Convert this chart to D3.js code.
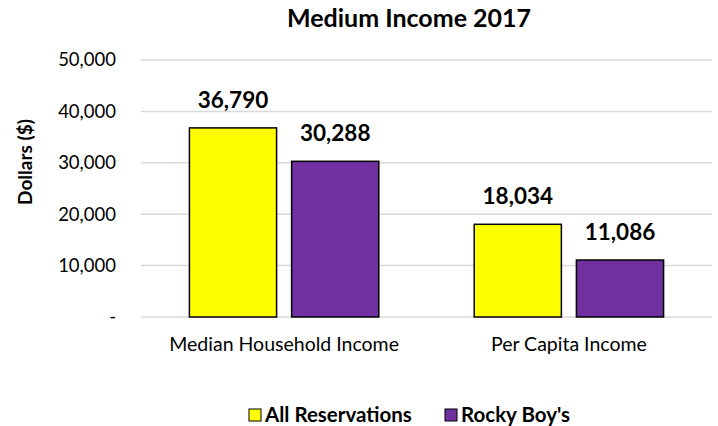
<!DOCTYPE html>
<html>
<head>
<meta charset="utf-8">
<script src="https://cdn.jsdelivr.net/npm/d3@7"></script>
<style>
	body { margin: 0; background: #fff; }
	text { font-family: Lato, "Open Sans", sans-serif; fill: #000; }
</style>
</head>
<body>
<svg id="chart" width="718" height="426"></svg>
<script>
	var categories = ["Median Household Income", "Per Capita Income"],
		seriesNames = ["All Reservations", "Rocky Boy's"],
		allReservations = [36790, 18034],
		rockyBoys = [30288, 11086],
		yTicks = [0, 10000, 20000, 30000, 40000, 50000],
		colors = ["#ffff00", "#7030a0"];

	var svg = d3.select("#chart"),
		plotLeft = 141,
		plotRight = 712,
		plotTop = 60,
		plotBottom = 317;

	var x0 = d3.scaleBand()
		.domain(categories)
		.range([plotLeft, plotRight])
		.paddingInner(0.335)
		.paddingOuter(0.17);

	var x1 = d3.scaleBand()
		.domain(seriesNames)
		.range([0, x0.bandwidth()])
		.paddingInner(0.147);

	var y = d3.scaleLinear()
		.domain([0, 50000])
		.range([plotBottom, plotTop]);

	var fmt = d3.format(",");

	// gridlines
	svg.append("g")
		.selectAll("line")
		.data(yTicks)
		.enter()
		.append("line")
		.attr("x1", plotLeft)
		.attr("x2", plotRight)
		.attr("y1", function (d) { return y(d); })
		.attr("y2", function (d) { return y(d); })
		.attr("stroke", "#d9d9d9")
		.attr("stroke-width", 1.5);

	// y tick labels
	svg.append("g")
		.selectAll("text")
		.data(yTicks)
		.enter()
		.append("text")
		.attr("x", 116)
		.attr("y", function (d) { return y(d); })
		.attr("dy", "0.35em")
		.attr("text-anchor", "end")
		.style("font-size", "18.5px")
		.attr("fill", "#262626")
		.text(function (d) { return d === 0 ? "-" : fmt(d); });

	var rows = categories.map(function (c, i) {
		return { cat: c, values: [allReservations[i], rockyBoys[i]] };
	});

	var groups = svg.append("g")
		.selectAll("g")
		.data(rows)
		.enter()
		.append("g")
		.attr("transform", function (d) { return "translate(" + x0(d.cat) + ",0)"; });

	groups.selectAll("rect")
		.data(function (d) { return d.values.map(function (v, j) { return { name: seriesNames[j], v: v, j: j }; }); })
		.enter()
		.append("rect")
		.attr("x", function (d) { return x1(d.name); })
		.attr("y", function (d) { return y(d.v); })
		.attr("width", x1.bandwidth())
		.attr("height", function (d) { return plotBottom - y(d.v); })
		.attr("fill", function (d) { return colors[d.j]; })
		.attr("stroke", "#000")
		.attr("stroke-width", 1.5);

	groups.selectAll("text")
		.data(function (d) { return d.values.map(function (v, j) { return { name: seriesNames[j], v: v }; }); })
		.enter()
		.append("text")
		.attr("x", function (d) { return x1(d.name) + x1.bandwidth() / 2; })
		.attr("y", function (d) { return y(d.v) - 20; })
		.attr("text-anchor", "middle")
		.style("font-size", "22.5px")
		.style("font-weight", "bold")
		.text(function (d) { return fmt(d.v); });

	// category labels
	svg.append("g")
		.selectAll("text")
		.data(categories)
		.enter()
		.append("text")
		.attr("x", function (d) { return x0(d) + x0.bandwidth() / 2; })
		.attr("y", 351)
		.attr("text-anchor", "middle")
		.style("font-size", "19.5px")
		.attr("fill", "#262626")
		.text(function (d) { return d; });

	// title
	svg.append("text")
		.attr("x", 409)
		.attr("y", 27)
		.attr("text-anchor", "middle")
		.style("font-size", "25px")
		.style("font-weight", "bold")
		.text("Medium Income 2017");

	// y axis title
	svg.append("text")
		.attr("transform", "translate(32,162) rotate(-90)")
		.attr("text-anchor", "middle")
		.style("font-size", "19px")
		.style("font-weight", "bold")
		.text("Dollars ($)");

	// legend
	var legendX = [249, 445];
	var legend = svg.append("g")
		.selectAll("g")
		.data(seriesNames)
		.enter()
		.append("g")
		.attr("transform", function (d, i) { return "translate(" + legendX[i] + ",415)"; });

	legend.append("rect")
		.attr("x", 0)
		.attr("y", -6)
		.attr("width", 12)
		.attr("height", 12)
		.attr("fill", function (d, i) { return colors[i]; })
		.attr("stroke", "#000")
		.attr("stroke-width", 1);

	legend.append("text")
		.attr("x", 16)
		.attr("y", 0)
		.attr("dy", "0.35em")
		.style("font-size", "20.5px")
		.style("font-weight", "bold")
		.text(function (d) { return d; });
</script>
</body>
</html>
